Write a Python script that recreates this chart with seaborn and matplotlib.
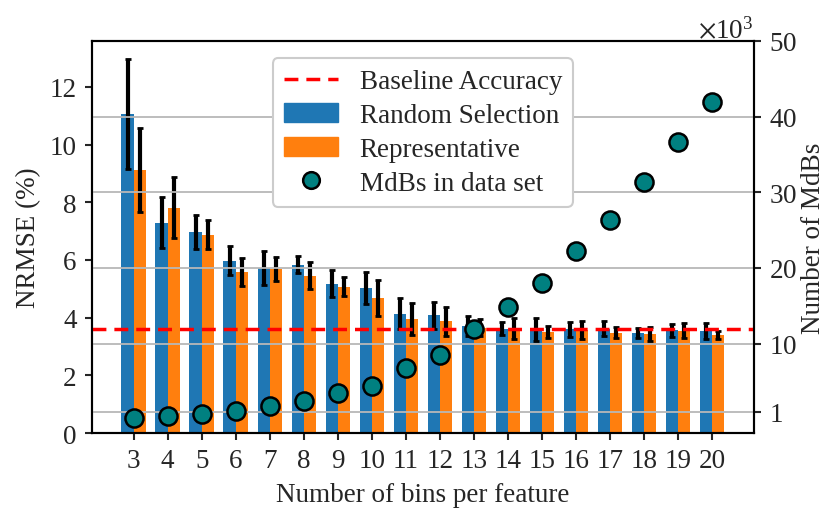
import matplotlib
matplotlib.use("Agg")
import matplotlib.pyplot as plt
from matplotlib.lines import Line2D
from matplotlib.patches import Patch
from matplotlib.ticker import ScalarFormatter
import numpy as np
import pandas as pd
import seaborn as sns

bins = list(range(3, 21))
random_sel = [11.07, 7.29, 6.98, 5.97, 5.72, 5.84, 5.18, 5.04, 4.14, 4.08,
              3.70, 3.62, 3.58, 3.59, 3.62, 3.48, 3.56, 3.53]
random_err = [1.90, 0.88, 0.59, 0.50, 0.60, 0.30, 0.47, 0.55, 0.53, 0.46,
              0.35, 0.23, 0.40, 0.25, 0.27, 0.17, 0.22, 0.28]
repres = [9.11, 7.81, 6.88, 5.59, 5.70, 5.46, 5.07, 4.69, 3.96, 3.87,
          3.65, 3.62, 3.50, 3.56, 3.48, 3.44, 3.55, 3.41]
repres_err = [1.45, 1.06, 0.50, 0.48, 0.42, 0.47, 0.33, 0.62, 0.55, 0.50,
              0.30, 0.36, 0.20, 0.31, 0.20, 0.24, 0.25, 0.14]
mdbs = [160, 380, 650, 1050, 1790, 2370, 3430, 4400, 6740, 8460,
        11950, 14820, 18000, 22190, 26300, 31320, 36580, 41970]
baseline = 3.59

sns.set_style("ticks")
plt.rcParams["font.family"] = ["Liberation Serif", "DejaVu Serif"]
plt.rcParams["mathtext.fontset"] = "stix"
fs = 19.5
plt.rcParams["font.size"] = fs

df = pd.DataFrame({
    "bins": bins * 2,
    "nrmse": random_sel + repres,
    "method": ["Random Selection"] * len(bins) + ["Representative"] * len(bins),
})

blue, orange, teal = "#1f77b4", "#ff7f0e", "#008080"

fig, ax = plt.subplots(figsize=(8.3, 5.1), dpi=100)
fig.subplots_adjust(left=0.111, right=0.908, top=0.918, bottom=0.149)

sns.barplot(data=df, x="bins", y="nrmse", hue="method", palette=[blue, orange],
            width=0.72, errorbar=None, legend=False, saturation=1, linewidth=0,
            ax=ax)
idx = np.arange(len(bins))
ax.errorbar(idx - 0.18, random_sel, yerr=random_err, fmt="none", ecolor="black",
            elinewidth=3, capsize=2.5, capthick=2)
ax.errorbar(idx + 0.18, repres, yerr=repres_err, fmt="none", ecolor="black",
            elinewidth=3, capsize=2.5, capthick=2)
ax.axhline(baseline, color="red", ls="--", lw=2.5, dashes=(4, 2.3), zorder=5)
ax.set_xlim(-1.22, len(bins) - 1 + 1.22)
ax.set_ylim(0, 13.6)
ax.set_yticks([0, 2, 4, 6, 8, 10, 12])
ax.set_xlabel("Number of bins per feature", labelpad=6)
ax.set_ylabel("NRMSE (%)", labelpad=6)

ax2 = ax.twinx()
ax2.grid(axis="y", color="0.72", lw=1.3)
sns.scatterplot(x=idx, y=mdbs, ax=ax2, s=170, color=teal, edgecolor="black",
                linewidth=1.8, zorder=6)
ax2.set_ylim(-1820, 50000)
ax2.set_yticks([1000, 10000, 20000, 30000, 40000, 50000])
fmt = ScalarFormatter(useMathText=True)
fmt.set_powerlimits((3, 3))
ax2.yaxis.set_major_formatter(fmt)
ax2.set_ylabel("Number of MdBs", labelpad=3)

for a in (ax, ax2):
    for s in a.spines.values():
        s.set_linewidth(1.5)
        s.set_color("black")
    a.tick_params(width=1.5, length=5, labelsize=fs, pad=6)

handles = [
    Line2D([], [], color="red", ls="--", lw=2.5, dashes=(4, 2.3)),
    Patch(color=blue),
    Patch(color=orange),
    Line2D([], [], ls="none", marker="o", markersize=12, markerfacecolor=teal,
           markeredgecolor="black", markeredgewidth=1.8),
]
labels = ["Baseline Accuracy", "Random Selection", "Representative", "MdBs in data set"]
leg = ax2.legend(handles, labels, loc="upper center", bbox_to_anchor=(0.5, 0.99),
                 fontsize=fs, frameon=True, fancybox=True, framealpha=1,
                 edgecolor="0.8", handlelength=2, labelspacing=0.33,
                 borderpad=0.4)
leg.get_frame().set_linewidth(1.5)

fig.savefig("out.png", dpi=100)
